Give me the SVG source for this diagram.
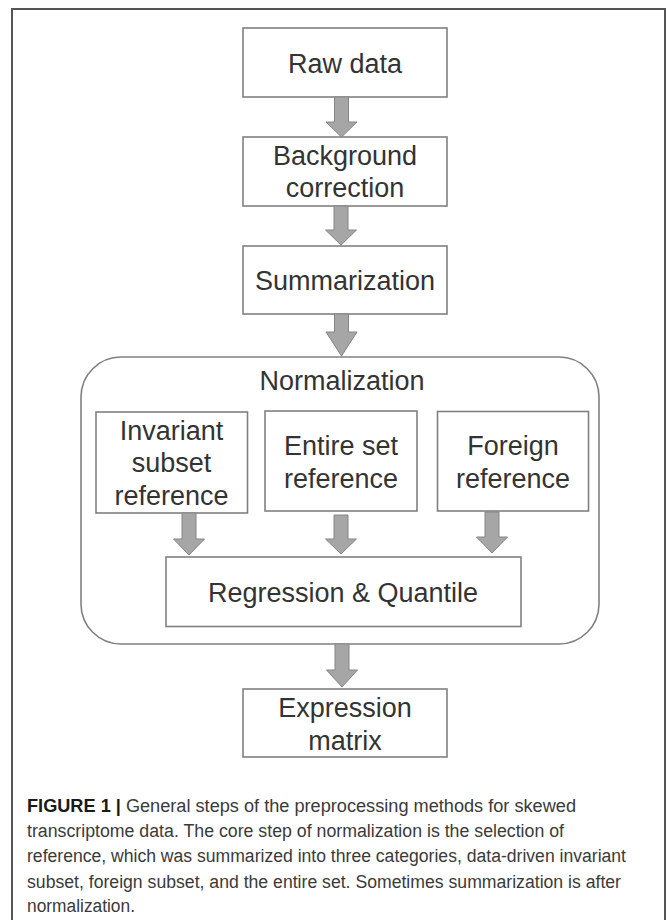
<svg xmlns="http://www.w3.org/2000/svg" width="667" height="920" viewBox="0 0 667 920">
<style>
.box{fill:#fff;stroke:#808080;stroke-width:1.6}
.t{font-family:"Liberation Sans",Arial,sans-serif;font-size:27px;fill:#333;text-anchor:middle}
.arr{fill:#a6a6a6;stroke:#858585;stroke-width:1}
.cap{font-family:"Liberation Sans Narrow","Arial Narrow","Liberation Sans",sans-serif;font-size:18px;fill:#3a3a3a}
.b{font-weight:bold;fill:#1a1a1a}
</style>
<rect width="667" height="920" fill="#fff"/>
<path d="M12,930 V9 H665 V930" fill="none" stroke="#555" stroke-width="2"/>
<g id="normalization">
<rect class="box" x="81" y="357" width="518" height="287" rx="40" ry="40"/>
<text class="t" x="342" y="390">Normalization</text>
</g>
<g id="raw-data">
<rect class="box" x="243" y="28" width="204" height="69"/>
<text class="t" x="345" y="73">Raw data</text>
</g>
<g id="background-correction">
<rect class="box" x="243" y="137" width="204" height="69"/>
<text class="t" x="345" y="165">Background</text>
<text class="t" x="345" y="197">correction</text>
</g>
<g id="summarization">
<rect class="box" x="243" y="246" width="204" height="68"/>
<text class="t" x="345" y="290">Summarization</text>
</g>
<g id="invariant-subset-reference">
<rect class="box" x="96" y="412" width="151.5" height="101"/>
<text class="t" x="171.5" y="440">Invariant</text>
<text class="t" x="171.5" y="472">subset</text>
<text class="t" x="171.5" y="505">reference</text>
</g>
<g id="entire-set-reference">
<rect class="box" x="265" y="411" width="152" height="100"/>
<text class="t" x="341" y="455">Entire set</text>
<text class="t" x="341" y="488">reference</text>
</g>
<g id="foreign-reference">
<rect class="box" x="437.5" y="411.5" width="151" height="99.5"/>
<text class="t" x="513" y="455">Foreign</text>
<text class="t" x="513" y="488">reference</text>
</g>
<g id="regression-quantile">
<rect class="box" x="166" y="557" width="355" height="69.5"/>
<text class="t" x="343" y="602">Regression &amp; Quantile</text>
</g>
<g id="expression-matrix">
<rect class="box" x="243" y="689" width="204" height="68"/>
<text class="t" x="345" y="717">Expression</text>
<text class="t" x="345" y="750">matrix</text>
</g>
<g id="connectors">
<path class="arr" d="M334.5,97 H348.5 V122 H357 L341.5,137 L326,122 H334.5 Z"/>
<path class="arr" d="M334,206 H348 V230 H356.5 L341,245 L325.5,230 H334 Z"/>
<path class="arr" d="M334.5,314 H348.5 V332 H357 L341.5,356 L326,332 H334.5 Z"/>
<path class="arr" d="M182,513 H196 V539 H204.5 L189,555 L173.5,539 H182 Z"/>
<path class="arr" d="M334,515 H348 V539 H356.5 L341,554 L325.5,539 H334 Z"/>
<path class="arr" d="M485,512 H499 V537 H507.5 L492,553 L476.5,537 H485 Z"/>
<path class="arr" d="M335,644 H349 V670 H357.5 L342,687 L326.5,670 H335 Z"/>
</g>
<g id="caption">
<text class="cap" x="27" y="812" textLength="549" lengthAdjust="spacingAndGlyphs"><tspan class="b">FIGURE 1 |</tspan> General steps of the preprocessing methods for skewed</text>
<text class="cap" x="27" y="837" textLength="537" lengthAdjust="spacingAndGlyphs">transcriptome data. The core step of normalization is the selection of</text>
<text class="cap" x="27" y="862" textLength="599" lengthAdjust="spacingAndGlyphs">reference, which was summarized into three categories, data-driven invariant</text>
<text class="cap" x="27" y="888" textLength="594" lengthAdjust="spacingAndGlyphs">subset, foreign subset, and the entire set. Sometimes summarization is after</text>
<text class="cap" x="27" y="912" textLength="108" lengthAdjust="spacingAndGlyphs">normalization.</text>
</g>
</svg>
